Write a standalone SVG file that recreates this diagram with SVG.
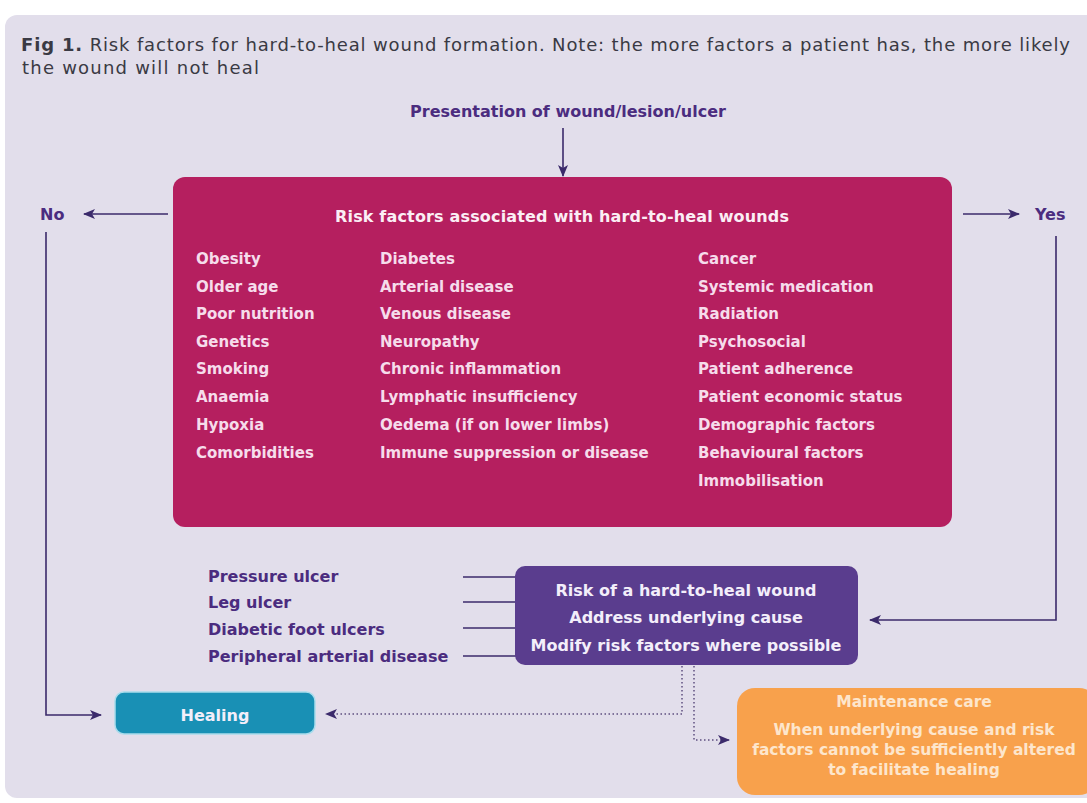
<svg xmlns="http://www.w3.org/2000/svg" width="1087" height="803" viewBox="0 0 1087 803">
<defs>
<marker id="ah" viewBox="0 0 12 10" refX="11" refY="5" markerWidth="12" markerHeight="10" markerUnits="userSpaceOnUse" orient="auto">
<path d="M0,0 L12,5 L0,10 L3,5 z" fill="#3b2a6b"/>
</marker>
<marker id="ahd" viewBox="0 0 12 10" refX="11" refY="5" markerWidth="12" markerHeight="10" markerUnits="userSpaceOnUse" orient="auto">
<path d="M0,0 L12,5 L0,10 L3,5 z" fill="#3b2a6b"/>
</marker>
</defs>
<style>
.title{font-family:"DejaVu Sans",sans-serif;font-size:18px;fill:#3a3a44}
.b{font-weight:bold}
.pur{font-family:"DejaVu Sans",sans-serif;font-weight:bold;font-size:16px;fill:#4b2c7f}
.rf{font-family:"DejaVu Sans",sans-serif;font-weight:bold;font-size:15px;fill:#f6dceb}
.hd{font-family:"DejaVu Sans",sans-serif;font-weight:bold;font-size:16px;fill:#fbeef5}
.wt{font-family:"DejaVu Sans",sans-serif;font-weight:bold;font-size:16px;fill:#f3eefa}
.or{font-family:"DejaVu Sans",sans-serif;font-weight:bold;font-size:15.5px;fill:#fde6cc}
.ln{stroke:#3b2a6b;stroke-width:1.6;fill:none}
.dt{stroke:#5d4f80;stroke-width:1.5;fill:none;stroke-dasharray:1.5 2.5}
</style>
<rect x="0" y="0" width="1087" height="803" fill="#ffffff"/>
<rect x="5" y="15" width="1100" height="783" rx="12" fill="#e2deeb"/>
<g id="title">
<text class="title" x="21" y="51" textLength="1049" lengthAdjust="spacing"><tspan class="b">Fig 1.</tspan> Risk factors for hard-to-heal wound formation. Note: the more factors a patient has, the more likely</text>
<text class="title" x="22" y="74" textLength="237" lengthAdjust="spacing">the wound will not heal</text>
</g>
<g id="connectors">
<line class="ln" x1="563" y1="128" x2="563" y2="176" marker-end="url(#ah)"/>
<line class="ln" x1="168" y1="214" x2="84" y2="214" marker-end="url(#ah)"/>
<line class="ln" x1="963" y1="214" x2="1019" y2="214" marker-end="url(#ah)"/>
<polyline class="ln" points="46,232 46,715 101,715" marker-end="url(#ah)"/>
<polyline class="ln" points="1056,236 1056,620 870,620" marker-end="url(#ah)"/>
<line class="ln" x1="463" y1="577" x2="516" y2="577"/>
<line class="ln" x1="463" y1="602" x2="516" y2="602"/>
<line class="ln" x1="463" y1="628" x2="516" y2="628"/>
<line class="ln" x1="463" y1="656" x2="516" y2="656"/>
<polyline class="dt" points="682,666 682,714 326,714" marker-end="url(#ahd)"/>
<polyline class="dt" points="694,666 694,740 729,740" marker-end="url(#ahd)"/>
</g>
<g id="presentation">
<text class="pur" x="568" y="117" text-anchor="middle">Presentation of wound/lesion/ulcer</text>
</g>
<g id="no">
<text class="pur" x="40" y="220">No</text>
</g>
<g id="yes">
<text class="pur" x="1035" y="220">Yes</text>
</g>
<g id="risk-factors">
<rect x="173" y="177" width="779" height="350" rx="12" fill="#b51f5f"/>
<text class="hd" x="562" y="222" text-anchor="middle" textLength="454" lengthAdjust="spacing">Risk factors associated with hard-to-heal wounds</text>
<text class="rf" x="196" y="264">Obesity</text>
<text class="rf" x="196" y="292">Older age</text>
<text class="rf" x="196" y="319">Poor nutrition</text>
<text class="rf" x="196" y="347">Genetics</text>
<text class="rf" x="196" y="374">Smoking</text>
<text class="rf" x="196" y="402">Anaemia</text>
<text class="rf" x="196" y="430">Hypoxia</text>
<text class="rf" x="196" y="458">Comorbidities</text>
<text class="rf" x="380" y="264">Diabetes</text>
<text class="rf" x="380" y="292">Arterial disease</text>
<text class="rf" x="380" y="319">Venous disease</text>
<text class="rf" x="380" y="347">Neuropathy</text>
<text class="rf" x="380" y="374">Chronic inflammation</text>
<text class="rf" x="380" y="402">Lymphatic insufficiency</text>
<text class="rf" x="380" y="430">Oedema (if on lower limbs)</text>
<text class="rf" x="380" y="458">Immune suppression or disease</text>
<text class="rf" x="698" y="264">Cancer</text>
<text class="rf" x="698" y="292">Systemic medication</text>
<text class="rf" x="698" y="319">Radiation</text>
<text class="rf" x="698" y="347">Psychosocial</text>
<text class="rf" x="698" y="374">Patient adherence</text>
<text class="rf" x="698" y="402">Patient economic status</text>
<text class="rf" x="698" y="430">Demographic factors</text>
<text class="rf" x="698" y="458">Behavioural factors</text>
<text class="rf" x="698" y="486">Immobilisation</text>
</g>
<g id="wound-types">
<text class="pur" x="208" y="582">Pressure ulcer</text>
<text class="pur" x="208" y="608">Leg ulcer</text>
<text class="pur" x="208" y="635">Diabetic foot ulcers</text>
<text class="pur" x="208" y="662">Peripheral arterial disease</text>
</g>
<g id="risk-box">
<rect x="515" y="566" width="343" height="99" rx="10" fill="#5a3d8e"/>
<text class="wt" x="686" y="596" text-anchor="middle">Risk of a hard-to-heal wound</text>
<text class="wt" x="686" y="623" text-anchor="middle">Address underlying cause</text>
<text class="wt" x="686" y="651" text-anchor="middle">Modify risk factors where possible</text>
</g>
<g id="healing">
<rect x="115" y="692" width="200" height="42" rx="9" fill="#1990b5" stroke="#a9dcec" stroke-width="1.5"/>
<text class="wt" x="215" y="721" text-anchor="middle">Healing</text>
</g>
<g id="maintenance">
<rect x="737" y="688" width="360" height="107" rx="18" fill="#f8a14c"/>
<text class="or" x="914" y="707" text-anchor="middle">Maintenance care</text>
<text class="or" x="914" y="735" text-anchor="middle">When underlying cause and risk</text>
<text class="or" x="914" y="755" text-anchor="middle">factors cannot be sufficiently altered</text>
<text class="or" x="914" y="775" text-anchor="middle">to facilitate healing</text>
</g>
</svg>
